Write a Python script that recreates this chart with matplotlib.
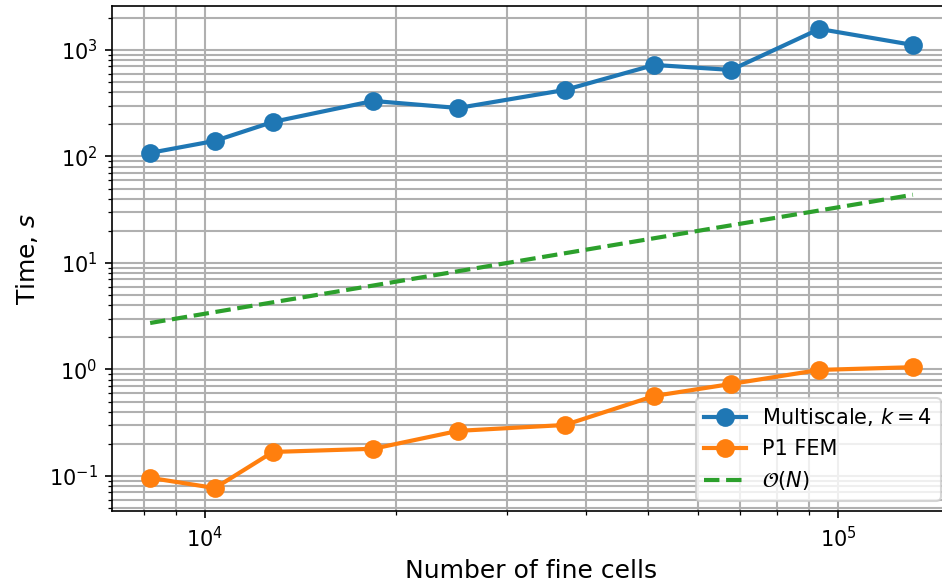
import numpy as np
import matplotlib
matplotlib.use('Agg')
import matplotlib.pyplot as plt

n_cells = [8192, 10368, 12800, 18432, 25088, 36992, 51200, 67712, 93312, 131072]
t_multiscale = [108, 140, 211, 332, 285, 421, 723, 649, 1574, 1114]
t_p1fem = [0.096, 0.077, 0.168, 0.180, 0.265, 0.301, 0.564, 0.731, 0.99, 1.05]
t_ref = [2.73, 3.46, 4.27, 6.14, 8.36, 12.33, 17.07, 22.57, 31.10, 43.69]

fig = plt.figure(figsize=(6.28, 3.92), dpi=150)
ax = fig.add_axes([112/942, 77/588, 839/942, 505/588])

ax.loglog(n_cells, t_multiscale, 'o-', color='C0', lw=2, ms=8, label='Multiscale, $k=4$')
ax.loglog(n_cells, t_p1fem, 'o-', color='C1', lw=2, ms=8, label='P1 FEM')
ax.loglog(n_cells, t_ref, '--', color='C2', lw=2, label=r'$\mathcal{O}(N)$')

ax.grid(True, which='both', color='#b0b0b0', lw=1)
ax.set_xlabel('Number of fine cells', fontsize=12)
ax.set_ylabel('Time, $s$', fontsize=12)
ax.legend(loc='lower right', fontsize=10)

fig.savefig('out.png', dpi=150)
